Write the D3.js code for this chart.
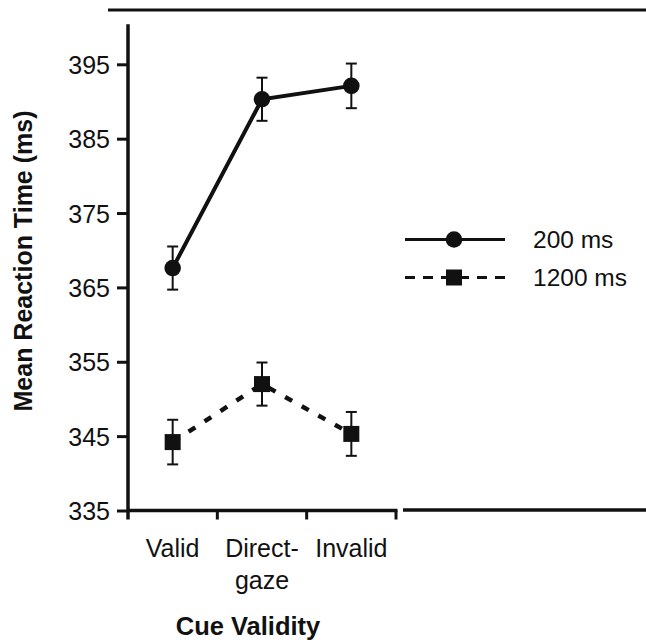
<!DOCTYPE html>
<html>
<head>
<meta charset="utf-8">
<script src="https://cdn.jsdelivr.net/npm/d3@7"></script>
<style>
  html, body { margin: 0; padding: 0; background: #fff; }
  svg { display: block; }
  text { font-family: Arial, "Liberation Sans", Helvetica, sans-serif; fill: #111; }
</style>
</head>
<body>
<svg id="chart" width="646" height="643"></svg>
<script>
// ---- data ----
const categories = ["Valid", "Direct-gaze", "Invalid"];
const categoryLines = [["Valid"], ["Direct-", "gaze"], ["Invalid"]];
const series200 = [367.6, 390.3, 392.1];
const err200 = [2.9, 2.9, 3.0];
const series1200 = [344.2, 352.0, 345.3];
const err1200 = [3.0, 2.9, 2.95];
const seriesNames = ["200 ms", "1200 ms"];
const yTicks = [335, 345, 355, 365, 375, 385, 395];
const yTitle = "Mean Reaction Time (ms)";
const xTitle = "Cue Validity";

// ---- layout ----
const svg = d3.select("#chart");
const ink = "#111";
const x = d3.scaleBand().domain(categories).range([128, 396]).padding(0);
const y = d3.scaleLinear().domain([335, 395]).range([510.5, 64.3]);

// top frame line
svg.append("line").attr("x1", 108).attr("x2", 646).attr("y1", 10).attr("y2", 10)
  .attr("stroke", ink).attr("stroke-width", 3);

// y axis
const yAxis = d3.axisLeft(y).tickValues(yTicks).tickSize(11).tickPadding(7).tickFormat(d3.format("d"));
const gy = svg.append("g").attr("transform", "translate(128,0)").call(yAxis);
gy.select(".domain").remove();
gy.selectAll(".tick line").attr("stroke", ink).attr("stroke-width", 3);
gy.selectAll(".tick text").attr("font-size", 25).attr("fill", ink).attr("dy", "0.36em")
  .attr("font-family", "Arial, 'Liberation Sans', sans-serif");
svg.append("line").attr("x1", 128).attr("x2", 128).attr("y1", y(400.4)).attr("y2", y(335) + 9)
  .attr("stroke", ink).attr("stroke-width", 3.5);

// x axis
const x0 = x.range()[0], x1 = x.range()[1];
svg.append("line").attr("x1", x0).attr("x2", x1 + 1.5).attr("y1", y(335)).attr("y2", y(335))
  .attr("stroke", ink).attr("stroke-width", 3.5);
const bounds = categories.map(c => x(c) + x.bandwidth());
svg.selectAll(".xtick").data(bounds).enter().append("line")
  .attr("x1", d => d).attr("x2", d => d).attr("y1", y(335)).attr("y2", y(335) + 9)
  .attr("stroke", ink).attr("stroke-width", 3);
// continuation line to the right
svg.append("line").attr("x1", x1 + 7).attr("x2", 646).attr("y1", y(335) - 0.5).attr("y2", y(335) - 0.5)
  .attr("stroke", ink).attr("stroke-width", 3.5);

// x tick labels
categories.forEach((c, i) => {
  const t = svg.append("text").attr("x", x(c) + x.bandwidth() / 2).attr("y", 557)
    .attr("text-anchor", "middle").attr("font-size", 25);
  categoryLines[i].forEach((ln, j) => {
    t.append("tspan").attr("x", x(c) + x.bandwidth() / 2).attr("dy", j === 0 ? 0 : 32).text(ln);
  });
});

// axis titles
svg.append("text").attr("x", 248).attr("y", 635).attr("text-anchor", "middle")
  .attr("font-size", 25.5).attr("font-weight", "bold").text(xTitle);
svg.append("text").attr("transform", "translate(32,261) rotate(-90)").attr("text-anchor", "middle")
  .attr("font-size", 25).attr("font-weight", "bold").text(yTitle);

// ---- series ----
const line = d3.line().x((d, i) => x(categories[i]) + x.bandwidth() / 2).y(d => y(d));
const cx = i => x(categories[i]) + x.bandwidth() / 2;

function errorBars(vals, errs) {
  const g = svg.append("g");
  vals.forEach((v, i) => {
    const px = cx(i), top = y(v + errs[i]), bot = y(v - errs[i]);
    g.append("line").attr("x1", px).attr("x2", px).attr("y1", top).attr("y2", bot).attr("stroke", ink).attr("stroke-width", 2);
    [top, bot].forEach(yy => g.append("line").attr("x1", px - 5.5).attr("x2", px + 5.5).attr("y1", yy).attr("y2", yy)
      .attr("stroke", ink).attr("stroke-width", 2));
  });
}

errorBars(series200, err200);
errorBars(series1200, err1200);

svg.append("path").datum(series200).attr("d", line).attr("fill", "none").attr("stroke", ink).attr("stroke-width", 4);
svg.append("path").datum(series1200).attr("d", line).attr("fill", "none").attr("stroke", ink).attr("stroke-width", 4.5)
  .attr("stroke-dasharray", "8,11");

svg.selectAll(".c200").data(series200).enter().append("circle")
  .attr("cx", (d, i) => cx(i)).attr("cy", d => y(d)).attr("r", 8.3).attr("fill", ink);
svg.selectAll(".s1200").data(series1200).enter().append("rect")
  .attr("x", (d, i) => cx(i) - 8).attr("y", d => y(d) - 8).attr("width", 16).attr("height", 16).attr("fill", ink);

// ---- legend ----
const lg = svg.append("g");
const legY = [239.5, 277.5];
lg.append("line").attr("x1", 405).attr("x2", 505).attr("y1", legY[0]).attr("y2", legY[0]).attr("stroke", ink).attr("stroke-width", 3);
lg.append("circle").attr("cx", 454).attr("cy", legY[0]).attr("r", 8.3).attr("fill", ink);
lg.append("line").attr("x1", 405).attr("x2", 505).attr("y1", legY[1]).attr("y2", legY[1]).attr("stroke", ink).attr("stroke-width", 3)
  .attr("stroke-dasharray", "10,8");
lg.append("rect").attr("x", 446).attr("y", legY[1] - 8).attr("width", 16).attr("height", 16).attr("fill", ink);
seriesNames.forEach((n, i) => {
  lg.append("text").attr("x", 533).attr("y", legY[i] + 8.5).attr("font-size", 24.5).text(n);
});
</script>
</body>
</html>
